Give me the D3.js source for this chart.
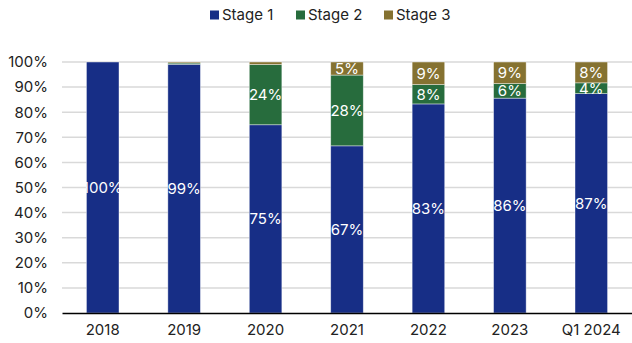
<!DOCTYPE html>
<html>
<head>
<meta charset="utf-8">
<script src="https://cdn.jsdelivr.net/npm/d3@7"></script>
<style>
  html, body { margin: 0; padding: 0; background: #fff; }
  svg { display: block; font-family: Inter, "Noto Sans", sans-serif; }
</style>
</head>
<body>
<svg id="chart" width="632" height="343"></svg>
<script>
// Share of loans by stage, per period
const categories = ["2018", "2019", "2020", "2021", "2022", "2023", "Q1 2024"];
const stage1 = [1.000, 0.991, 0.750, 0.666, 0.833, 0.856, 0.874];
const stage2 = [0.000, 0.005, 0.240, 0.282, 0.077, 0.058, 0.043];
const stage3 = [0.000, 0.004, 0.010, 0.052, 0.090, 0.086, 0.083];
const seriesNames = ["Stage 1", "Stage 2", "Stage 3"];
const seriesColors = ["#172e86", "#276c3d", "#857231"];
const yTicks = [0, 0.1, 0.2, 0.3, 0.4, 0.5, 0.6, 0.7, 0.8, 0.9, 1.0];

const rows = categories.map((c, i) => ({
  cat: c, "Stage 1": stage1[i], "Stage 2": stage2[i], "Stage 3": stage3[i]
}));

const svg = d3.select("#chart");
const margin = { left: 62, right: 0, top: 62, bottom: 30 };
const W = 632, H = 343;
const plotBottom = 313;
const FS = 15;

const x = d3.scaleBand().domain(categories).range([margin.left, W]).paddingInner(0.6).paddingOuter(0.3);
const y = d3.scaleLinear().domain([0, 1]).range([plotBottom, margin.top]);
const color = d3.scaleOrdinal().domain(seriesNames).range(seriesColors);
const pct = d3.format(".0%");

// gridlines
svg.append("g")
  .selectAll("line")
  .data(yTicks.filter(t => t > 0))
  .join("line")
  .attr("x1", margin.left).attr("x2", W)
  .attr("y1", d => y(d)).attr("y2", d => y(d))
  .attr("stroke", "#d9d9d9").attr("stroke-width", 1.5);

// y axis labels
const yAxis = svg.append("g")
  .attr("transform", `translate(${margin.left},0)`)
  .call(d3.axisLeft(y).tickValues(yTicks).tickFormat(pct).tickSize(0).tickPadding(14));
yAxis.select(".domain").remove();
yAxis.selectAll("text").attr("font-size", FS).attr("fill", "#222").style("font-family", "Inter, sans-serif");

// stacked bars
const stack = d3.stack().keys(seriesNames);
const layers = stack(rows);

const g = svg.append("g");
layers.forEach(layer => {
  g.append("g")
    .selectAll("rect")
    .data(layer)
    .join("rect")
    .attr("x", d => x(d.data.cat))
    .attr("width", x.bandwidth())
    .attr("y", d => y(d[1]))
    .attr("height", d => Math.max(0, y(d[0]) - y(d[1])))
    .attr("fill", color(layer.key))
    .attr("stroke", "#ffffff").attr("stroke-opacity", 0.55).attr("stroke-width", 0.75);
});

// value labels inside segments
layers.forEach(layer => {
  g.append("g")
    .selectAll("text")
    .data(layer.filter(d => d[1] - d[0] >= 0.03))
    .join("text")
    .attr("x", d => x(d.data.cat) + x.bandwidth() / 2)
    .attr("y", d => y((d[0] + d[1]) / 2))
    .attr("dy", "0.36em")
    .attr("text-anchor", "middle")
    .attr("font-size", FS)
    .attr("fill", "#ffffff")
    .text(d => pct(d[1] - d[0]));
});

// x axis
const xAxis = svg.append("g")
  .attr("transform", `translate(0,${plotBottom})`)
  .call(d3.axisBottom(x).tickSize(0).tickPadding(11));
xAxis.select(".domain").attr("stroke", "#000").attr("stroke-width", 1.5);
xAxis.selectAll("text").attr("font-size", FS).attr("fill", "#222").style("font-family", "Inter, sans-serif");

// legend
const legendX = [210, 296, 384];
const legend = svg.append("g");
seriesNames.forEach((name, i) => {
  const item = legend.append("g").attr("transform", `translate(${legendX[i]},15)`);
  item.append("rect").attr("x", 0).attr("y", -4.5).attr("width", 9).attr("height", 9).attr("fill", color(name));
  item.append("text").attr("x", 12).attr("y", 0).attr("dy", "0.36em")
    .attr("font-size", FS).attr("fill", "#222").text(name);
});
</script>
</body>
</html>
